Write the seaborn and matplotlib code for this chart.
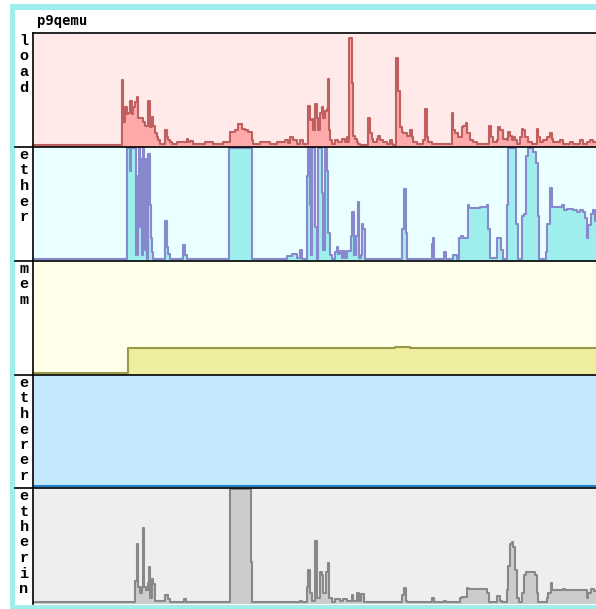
import seaborn as sns
import numpy as np
import matplotlib.pyplot as plt
from matplotlib.patches import Rectangle

# sample index (one per pixel column) and value as a fraction of the panel
load_t = [0, 89, 90, 92, 94, 95, 97, 99, 100, 102, 104, 105, 110, 112, 115, 117, 119, 120, 122, 124,
          125, 127, 132, 134, 135, 137, 139, 144, 154, 155, 157, 160, 172, 177, 180, 190, 197, 202, 205, 209,
          212, 215, 219, 220, 227, 237, 244, 252, 255, 257, 260, 264, 267, 270, 275, 277, 279, 280, 282, 284,
          285, 287, 289, 290, 292, 294, 295, 296, 297, 299, 302, 305, 309, 312, 314, 315, 316, 319, 320, 322,
          324, 325, 327, 335, 337, 339, 340, 344, 345, 347, 350, 354, 357, 359, 360, 363, 365, 367, 369, 370,
          374, 377, 379, 380, 384, 390, 392, 394, 395, 399, 419, 420, 422, 425, 429, 430, 433, 434, 437, 440,
          444, 456, 458, 460, 464, 465, 467, 470, 474, 475, 477, 479, 480, 482, 484, 487, 489, 490, 492, 495,
          499, 504, 505, 507, 510, 514, 517, 519, 520, 527, 530, 537, 540, 547, 550, 554, 557, 560, 563]
load_v = [0.02, 0.59, 0.22, 0.35, 0.29, 0.30, 0.41, 0.29, 0.35, 0.40, 0.44, 0.26, 0.22, 0.19, 0.41, 0.18, 0.27, 0.19, 0.12, 0.09,
          0.06, 0.03, 0.15, 0.09, 0.06, 0.04, 0.03, 0.045, 0.075, 0.04, 0.05, 0.03, 0.04, 0.045, 0.03, 0.04, 0.13, 0.15, 0.20, 0.16,
          0.15, 0.13, 0.06, 0.03, 0.04, 0.03, 0.04, 0.06, 0.035, 0.09, 0.06, 0.03, 0.06, 0.03, 0.36, 0.24, 0.25, 0.15, 0.38, 0.26,
          0.15, 0.30, 0.35, 0.26, 0.32, 0.34, 0.60, 0.15, 0.06, 0.03, 0.06, 0.04, 0.075, 0.04, 0.09, 0.04, 0.97, 0.57, 0.10, 0.075,
          0.045, 0.03, 0.015, 0.26, 0.12, 0.075, 0.045, 0.075, 0.095, 0.06, 0.045, 0.03, 0.06, 0.03, 0.015, 0.79, 0.50, 0.18, 0.13, 0.12,
          0.10, 0.15, 0.09, 0.045, 0.03, 0.06, 0.34, 0.09, 0.045, 0.03, 0.30, 0.15, 0.12, 0.09, 0.18, 0.19, 0.21, 0.12, 0.06, 0.045,
          0.03, 0.19, 0.09, 0.045, 0.06, 0.18, 0.15, 0.075, 0.06, 0.13, 0.10, 0.06, 0.09, 0.06, 0.03, 0.09, 0.16, 0.15, 0.09, 0.045,
          0.03, 0.16, 0.09, 0.045, 0.06, 0.09, 0.12, 0.075, 0.045, 0.06, 0.03, 0.045, 0.03, 0.06, 0.03, 0.045, 0.06, 0.045, 0.045]

ether_t = [0, 94, 97, 98, 103, 105, 106, 107, 108, 109, 110, 111, 112, 113, 114, 115, 117, 118, 119, 120,
           132, 134, 135, 137, 150, 152, 154, 196, 219, 254, 259, 264, 267, 269, 274, 275, 277, 278, 279, 282,
           284, 285, 289, 290, 292, 294, 295, 297, 299, 302, 304, 305, 307, 309, 310, 312, 314, 318, 319, 321,
           323, 325, 326, 328, 329, 330, 332, 369, 371, 373, 374, 399, 400, 401, 411, 413, 420, 424, 426, 428,
           430, 435, 436, 447, 454, 455, 457, 464, 468, 470, 474, 475, 483, 485, 489, 491, 493, 495, 500, 503,
           505, 506, 513, 514, 517, 519, 529, 531, 534, 540, 544, 547, 550, 552, 554, 555, 558, 560, 562, 563]
ether_v = [0.015, 1.0, 0.8, 1.0, 0.05, 0.75, 1.0, 0.3, 0.9, 0.05, 1.0, 0.5, 0.1, 0.9, 0.02, 0.95, 0.5, 0.2, 0.08, 0.02,
           0.35, 0.12, 0.06, 0.02, 0.14, 0.05, 0.02, 1.0, 0.02, 0.04, 0.06, 0.03, 0.10, 0.02, 0.75, 1.0, 0.5, 0.05, 1.0, 0.3,
           0.02, 1.0, 0.6, 0.1, 1.0, 0.8, 0.25, 0.05, 0.02, 0.08, 0.12, 0.06, 0.09, 0.03, 0.09, 0.03, 0.09, 0.22, 0.43, 0.05,
           0.22, 0.52, 0.03, 0.05, 0.33, 0.28, 0.02, 0.28, 0.64, 0.25, 0.02, 0.15, 0.20, 0.02, 0.08, 0.02, 0.05, 0.02, 0.20, 0.22,
           0.20, 0.50, 0.47, 0.48, 0.50, 0.28, 0.03, 0.20, 0.10, 0.02, 0.50, 1.0, 0.33, 0.02, 0.40, 0.42, 0.93, 1.0, 0.97, 0.87,
           0.40, 0.02, 0.08, 0.33, 0.65, 0.48, 0.50, 0.45, 0.46, 0.45, 0.43, 0.45, 0.43, 0.38, 0.20, 0.32, 0.42, 0.45, 0.35, 0.35]

mem_t = [0, 95, 362, 377, 563]
mem_v = [0.02, 0.235, 0.25, 0.24, 0.24]

etherer_t = [0, 563]
etherer_v = [0.015, 0.015]

etherin_t = [0, 102, 104, 105, 107, 109, 110, 111, 113, 115, 116, 117, 119, 120, 122, 132, 135, 137, 151, 153,
             197, 218, 219, 267, 269, 274, 275, 277, 279, 282, 284, 287, 289, 290, 293, 295, 296, 299, 302, 307,
             310, 314, 319, 320, 324, 326, 328, 331, 369, 371, 373, 374, 399, 401, 411, 413, 427, 429, 434, 435,
             454, 456, 464, 467, 469, 474, 475, 477, 479, 480, 482, 484, 486, 489, 491, 493, 502, 504, 505, 514,
             515, 518, 519, 530, 532, 552, 554, 555, 558, 561, 563]
etherin_v = [0.02, 0.20, 0.52, 0.15, 0.10, 0.15, 0.66, 0.15, 0.12, 0.18, 0.32, 0.05, 0.22, 0.17, 0.03, 0.08, 0.04, 0.02, 0.04, 0.02,
             1.0, 0.37, 0.02, 0.03, 0.02, 0.15, 0.30, 0.10, 0.03, 0.55, 0.05, 0.28, 0.25, 0.10, 0.28, 0.36, 0.05, 0.02, 0.04, 0.03,
             0.04, 0.03, 0.08, 0.03, 0.10, 0.03, 0.09, 0.02, 0.08, 0.14, 0.03, 0.02, 0.05, 0.02, 0.03, 0.02, 0.05, 0.06, 0.14, 0.13,
             0.10, 0.02, 0.07, 0.03, 0.02, 0.12, 0.33, 0.52, 0.54, 0.50, 0.30, 0.05, 0.02, 0.10, 0.25, 0.28, 0.25, 0.10, 0.02, 0.05,
             0.10, 0.18, 0.12, 0.13, 0.12, 0.12, 0.05, 0.10, 0.13, 0.11, 0.11]

panels = [
    ("load", load_t, load_v, "#ffe9e9", "#ffaaaa", "#bf5f5f"),
    ("ether", ether_t, ether_v, "#eaffff", "#9eeeee", "#8888cc"),
    ("mem", mem_t, mem_v, "#ffffea", "#eeee9e", "#99994c"),
    ("etherer", etherer_t, etherer_v, "#c4e8fc", "#c4e8fc", "#1f80c8"),
    ("etherin", etherin_t, etherin_v, "#eeeeee", "#cccccc", "#888888"),
]
tops = [33, 147, 261, 375, 488]
bots = [147, 261, 375, 488, 604]

W, H = 596, 609
fig = plt.figure(figsize=(W / 100, H / 100), dpi=100)

bg = fig.add_axes([0, 0, 1, 1])
bg.set_xlim(0, W)
bg.set_ylim(H, 0)
bg.axis("off")
cyan = "#9eeeee"
bg.add_patch(Rectangle((10, 4), W, 6, color=cyan, lw=0))
bg.add_patch(Rectangle((10, 4), 5, H, color=cyan, lw=0))
bg.add_patch(Rectangle((10, 604.5), W, 6, color=cyan, lw=0))
bg.text(37, 21, "p9qemu", fontsize=10, fontweight="bold", family="DejaVu Sans Mono", va="center", ha="left")

for (name, t, v, light, mid, dark), top, bot in zip(panels, tops, bots):
    ax = fig.add_axes([33 / W, 1 - bot / H, (W - 33) / W, (bot - top) / H])
    ax.set_facecolor(light)
    ax.fill_between(t, v, step="post", color=mid, lw=0)
    sns.lineplot(x=t, y=v, drawstyle="steps-post", color=dark, linewidth=1.5, ax=ax)
    ax.set_xlim(0, 563)
    ax.set_ylim(0, 1.01)
    ax.set_xticks([])
    ax.set_yticks([])
    for s in ["right", "bottom"]:
        ax.spines[s].set_visible(False)
    ax.spines["left"].set_color("black")
    ax.spines["left"].set_linewidth(1.2)
    ax.spines["top"].set_linewidth(1.2)
    if top != 33:
        bg.plot([15, W], [top - 0.5, top - 0.5], color="black", lw=1.2)
    for i, ch in enumerate(name):
        bg.text(24, top + 8 + i * 15.5, ch, fontsize=11, fontweight="bold",
                family="Liberation Mono", ha="center", va="center")

fig.savefig("out.png", dpi=100)
